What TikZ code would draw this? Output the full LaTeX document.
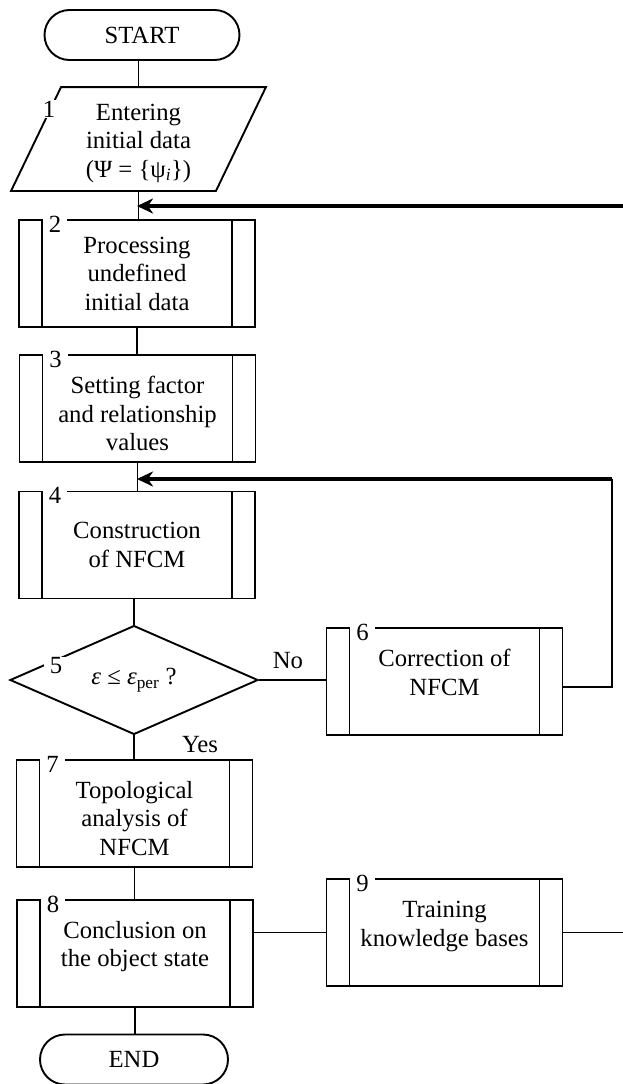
\documentclass[tikz,border=0pt]{standalone}
\usepackage{fontspec}
\setmainfont{Liberation Serif}
\usetikzlibrary{arrows.meta,shapes.geometric,shapes.misc}

\begin{document}
\begin{tikzpicture}[x=1pt,y=-1pt,line width=1.9pt,font=\fontsize{24.7}{28.5}\selectfont]
	\tikzstyle{term}=[rounded rectangle,draw,minimum width=195pt,minimum height=50pt,inner sep=0pt]
	\tikzstyle{proc}=[draw,minimum width=236pt,minimum height=107pt,inner sep=0pt,align=center,
		path picture={\draw ([xshift=23pt]path picture bounding box.north west) -- ([xshift=23pt]path picture bounding box.south west)
			([xshift=-23pt]path picture bounding box.north east) -- ([xshift=-23pt]path picture bounding box.south east);}]
	\tikzstyle{dec}=[diamond,draw,minimum width=248pt,minimum height=102pt,inner sep=0pt]
	\tikzstyle{txt}=[align=center,inner sep=0pt]
	\tikzstyle{num}=[fill=white,inner xsep=6pt,inner ysep=1pt]
	\tikzstyle{back}=[line width=3.3pt,-{Stealth[length=16pt,width=15pt,inset=5pt]}]
	\useasboundingbox (0,0) rectangle (623,1084);
	\node[term] (st) at (142,35) {START};
	\node[minimum width=203pt,minimum height=102pt,inner sep=0pt] (b1) at (138.5,139) {};
	\draw ([xshift=25pt]b1.north west) -- ([xshift=25pt]b1.north east) -- ([xshift=-25pt]b1.south east) -- ([xshift=-25pt]b1.south west) -- cycle;
	\node[txt] (t1) at ([yshift=-4pt]b1.center) {Entering\\initial data\\(Ψ = \{ψ\textsubscript{\textit{i}}\})};
	\node[proc] (b2) at (137,273.5) {Processing\\undefined\\initial data};
	\node[proc] (b3) at (137.5,408.5) {};
	\node[txt] (t3) at ([yshift=-5pt]b3.center) {Setting factor\\and relationship\\values};
	\node[proc] (b4) at (137,545) {Construction\\of NFCM};
	\node[dec] (b5) at (134,680) {\textit{ε} ≤ \textit{ε}\textsubscript{per} ?};
	\node[proc] (b6) at (444.5,681.5) {};
	\node[txt] (t6) at ([yshift=9pt]b6.center) {Correction of\\NFCM};
	\node[proc] (b7) at (134.5,813.5) {};
	\node[txt] (t7) at ([yshift=-5pt]b7.center) {Topological\\analysis of\\NFCM};
	\node[proc] (b8) at (135,953.5) {};
	\node[txt] (t8) at ([yshift=7pt]b8.center) {Conclusion on\\the object state};
	\node[proc] (b9) at (444.5,932.5) {};
	\node[txt] (t9) at ([yshift=6pt]b9.center) {Training\\knowledge bases};
	\node[term,minimum width=188pt] (fin) at (134,1059.5) {END};
	\node (no) at (288,661) {No};
	\node (yes) at (200,745) {Yes};

	\coordinate (r1) at (640,206);
	\coordinate (r2) at (612,479);

	\draw (b1.north |- st.south) -- (b1.north);
	\draw (b1.south) -- (b1.south |- b2.north);
	\draw (b2.south) -- (b2.south |- b3.north);
	\draw (b3.south) -- (b3.south |- b4.north);
	\draw (b4.south -| b5.north) -- (b5.north);
	\draw (b5.east) -- (b5.east -| b6.west);
	\draw (b5.south) -- (b5.south |- b7.north);
	\draw (b7.south) -- (b7.south |- b8.north);
	\draw (b8.east |- b9.west) -- (b9.west);
	\draw (b8.south) -- (b8.south |- fin.north);
	\draw ([yshift=-5.5pt]b6.east) -| (r2);
	\draw[back] (r2) -- (r2 -| b4.north);
	\draw (b9.east) -| (r1);
	\draw[back] (r1) -- (r1 -| b2.north);

	\foreach \n in {2,3,4,6,7,8,9}
		\node[num] (n\n) at ([xshift=37pt,yshift=-5pt]b\n.north west) {\n};
	\node[num] (n1) at ([xshift=13pt,yshift=-22pt]b1.north west) {1};
	\node[num] (n5) at ([xshift=-78pt,yshift=14pt]b5.center) {5};
\end{tikzpicture}
\end{document}
